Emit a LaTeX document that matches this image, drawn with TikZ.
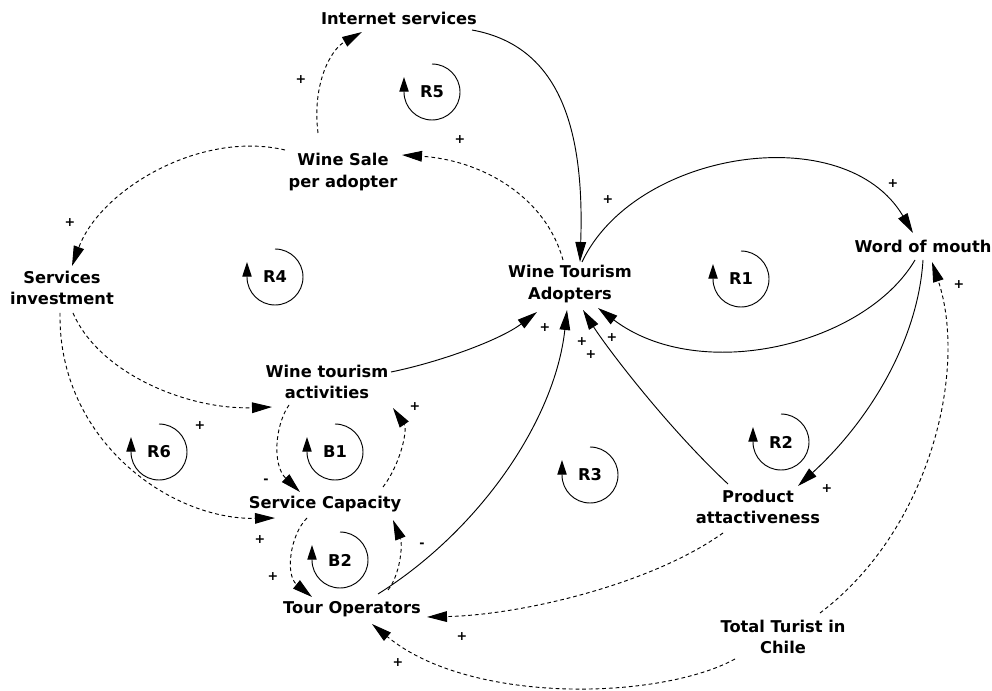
\documentclass[tikz,border=0pt]{standalone}
\usepackage{fontspec}
\setmainfont{DejaVu Sans}
\usetikzlibrary{arrows.meta}
\newcommand{\cldloop}[4]{%
  \node[var] (#1) at (#2,#3) {#4};
  \draw[loopline] ([shift={(0,-28)}]#1.center) arc[start angle=-90,end angle=180,radius=28] -- ++(0,-15);
}
\begin{document}
\begin{tikzpicture}[x=0.75pt,y=-0.75pt,
  var/.style={font=\fontsize{12.2}{15.8}\selectfont\bfseries, align=center, inner sep=1pt},
  sgn/.style={font=\fontsize{9.5}{10}\selectfont\bfseries, inner sep=0pt},
  lnk/.style={line width=0.7pt, -{Triangle[length=15pt,width=8pt]}},
  dl/.style={lnk, dash pattern=on 2.8pt off 2.2pt},
  loopline/.style={line width=0.7pt, -{Triangle[length=11pt,width=7pt]}}]
\useasboundingbox[fill=white] (0,0) rectangle (992,691);

% variables
\node[var] (inet) at (399,18) {Internet services};
\node[var] (sale) at (343,172) {Wine Sale\\per adopter};
\node[var] (servinv) at (62,288) {Services\\investment};
\node[var] (adopt) at (570,284) {Wine Tourism\\Adopters};
\node[var] (wom) at (923,246) {Word of mouth};
\node[var] (act) at (327,382) {Wine tourism\\activities};
\node[var] (cap) at (325,504) {Service Capacity};
\node[var] (tour) at (352,609) {Tour Operators};
\node[var] (prod) at (758,507) {Product\\attactiveness};
\node[var] (total) at (783,637) {Total Turist in\\Chile};

% loops
\cldloop{R4}{275}{277}{R4}
\cldloop{R5}{432}{92}{R5}
\cldloop{R1}{741}{279}{R1}
\cldloop{R2}{781}{442}{R2}
\cldloop{R3}{590}{475}{R3}
\cldloop{R6}{159}{452}{R6}
\cldloop{B1}{335}{452}{B1}
\cldloop{B2}{340}{560}{B2}

% connectors
\draw[lnk] ([shift={(73,12)}]inet.center) .. controls (555,45) and (585,120) .. ([shift={(10,-22)}]adopt.center);
\draw[lnk] ([shift={(12,-22)}]adopt.center) .. controls (635,150) and (845,118) .. ([shift={(-10,-13)}]wom.center);
\draw[lnk] ([shift={(-8,14)}]wom.center) .. controls (865,345) and (700,385) .. ([shift={(28,24)}]adopt.center);
\draw[dl] ([shift={(-7,-24)}]adopt.center) .. controls (545,195) and (480,160) .. ([shift={(59,-17)}]sale.center);
\draw[dl] ([shift={(-25,-39)}]sale.center) .. controls (312,85) and (330,50) .. ([shift={(-37,14)}]inet.center);
\draw[dl] ([shift={(-58,-22)}]sale.center) .. controls (200,130) and (100,190) .. ([shift={(10,-22)}]servinv.center);
\draw[dl] ([shift={(11,25)}]servinv.center) .. controls (100,375) and (190,410) .. ([shift={(-55,25)}]act.center);
\draw[dl] ([shift={(-2,25)}]servinv.center) .. controls (58,440) and (170,520) .. ([shift={(-50,14)}]cap.center);
\draw[dl] ([shift={(-38,23)}]act.center) .. controls (275,425) and (272,465) .. ([shift={(-25,-12)}]cap.center);
\draw[dl] ([shift={(58,-17)}]cap.center) .. controls (400,465) and (408,430) .. ([shift={(66,26)}]act.center);
\draw[dl] ([shift={(-18,14)}]cap.center) .. controls (290,535) and (285,575) .. ([shift={(-40,-12)}]tour.center);
\draw[dl] ([shift={(36,-19)}]tour.center) .. controls (400,575) and (403,545) .. ([shift={(68,16)}]cap.center);
\draw[dl] ([shift={(-35,26)}]prod.center) .. controls (650,585) and (520,615) .. ([shift={(75,8)}]tour.center);
\draw[dl] ([shift={(-48,22)}]total.center) .. controls (660,700) and (470,705) .. ([shift={(20,15)}]tour.center);
\draw[dl] ([shift={(37,-24)}]total.center) .. controls (930,530) and (968,370) .. ([shift={(9,16)}]wom.center);
\draw[lnk] ([shift={(0,14)}]wom.center) .. controls (918,340) and (870,420) .. ([shift={(40,-21)}]prod.center);
\draw[lnk] ([shift={(-30,-23)}]prod.center) .. controls (665,425) and (605,345) .. ([shift={(13,26)}]adopt.center);
\draw[lnk] ([shift={(64,-10)}]act.center) .. controls (440,362) and (500,340) .. ([shift={(-33,28)}]adopt.center);
\draw[lnk] ([shift={(26,-15)}]tour.center) .. controls (480,530) and (555,420) .. ([shift={(-3,26)}]adopt.center);

% polarity signs
\node[sgn] (s1) at (608,200) {+};
\node[sgn] (s2) at (893,184) {+};
\node[sgn] (s3) at (545,328) {+};
\node[sgn] (s4) at (582,342) {+};
\node[sgn] (s5) at (591,355) {+};
\node[sgn] (s6) at (612,338) {+};
\node[sgn] (s7) at (460,140) {+};
\node[sgn] (s8) at (301,80) {+};
\node[sgn] (s9) at (70,223) {+};
\node[sgn] (s10) at (200,426) {+};
\node[sgn] (s11) at (260,540) {+};
\node[sgn] (s12) at (266,481) {-};
\node[sgn] (s13) at (415,407) {+};
\node[sgn] (s14) at (273,577) {+};
\node[sgn] (s15) at (422,545) {-};
\node[sgn] (s16) at (462,637) {+};
\node[sgn] (s17) at (398,663) {+};
\node[sgn] (s18) at (959,285) {+};
\node[sgn] (s19) at (827,489) {+};
\end{tikzpicture}
\end{document}
